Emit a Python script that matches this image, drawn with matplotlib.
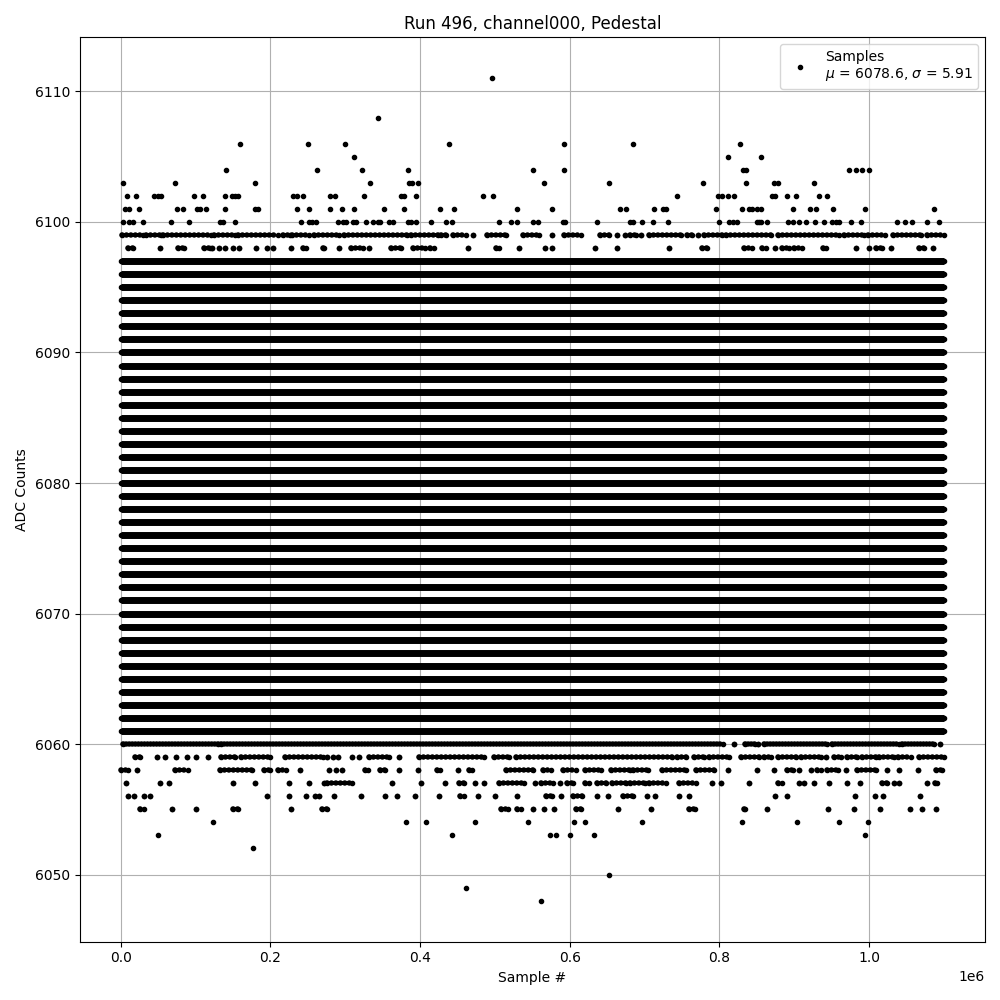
import matplotlib
matplotlib.use("Agg")
import matplotlib.pyplot as plt
import numpy as np

# ---- data (x in thousands of samples, y in ADC counts) ----
n_samples_k = 1100

dense_levels = [6061, 6062, 6063, 6064, 6065, 6066, 6067, 6068, 6069, 6070, 6071,
                6072, 6073, 6074, 6075, 6076, 6077, 6078, 6079, 6080, 6081,
                6082, 6083, 6084, 6085, 6086, 6087, 6088, 6089, 6090, 6091,
                6092, 6093, 6094, 6095, 6096, 6097]

# runs of adjacent samples (start_k, end_k) on partly filled levels
runs_6060 = [(3, 130), (134, 805), (820, 820), (834, 847), (851, 851), (860, 944),
             (951, 1040), (1044, 1087), (1095, 1095)]
runs_6059 = [(19, 26), (48, 48), (59, 59), (74, 74), (89, 89), (101, 101), (117, 117),
             (134, 152), (161, 199), (219, 270), (275, 275), (284, 284), (290, 290),
             (309, 309), (319, 319), (332, 359), (372, 372), (399, 486), (499, 519),
             (528, 737), (744, 755), (766, 780), (786, 813), (829, 853), (860, 869),
             (878, 902), (909, 936), (943, 943), (953, 962), (970, 984), (991, 1009),
             (1013, 1033), (1039, 1056), (1067, 1100)]
runs_6058 = [(0, 10), (22, 22), (72, 90), (132, 175), (191, 199), (210, 221), (239, 239),
             (278, 278), (287, 287), (295, 295), (326, 330), (346, 353), (372, 372),
             (397, 397), (422, 427), (450, 450), (466, 470), (515, 551), (564, 575),
             (591, 608), (620, 642), (655, 680), (684, 704), (723, 755), (769, 793),
             (812, 812), (850, 850), (873, 873), (891, 898), (906, 906), (922, 922),
             (931, 936), (944, 958), (969, 969), (984, 1009), (1024, 1024), (1040, 1040),
             (1065, 1065), (1089, 1098)]
runs_6057 = [(7, 7), (52, 52), (65, 65), (150, 150), (180, 180), (225, 225), (252, 252),
             (272, 272), (275, 309), (362, 362), (401, 401), (433, 433), (452, 459),
             (473, 473), (485, 485), (506, 539), (553, 553), (562, 577), (587, 587),
             (597, 604), (620, 626), (637, 649), (657, 675), (680, 700), (706, 729),
             (746, 769), (790, 790), (802, 802), (840, 840), (878, 884), (906, 906),
             (913, 913), (927, 927), (947, 947), (970, 970), (988, 988), (1018, 1024),
             (1033, 1033), (1040, 1040), (1078, 1078), (1088, 1091)]
runs_6056 = [(10, 10), (17, 17), (31, 31), (39, 39), (195, 195), (225, 225), (248, 248),
             (259, 259), (265, 265), (285, 285), (321, 321), (353, 353), (369, 369),
             (393, 393), (425, 425), (453, 459), (477, 477), (500, 500), (530, 530),
             (568, 576), (588, 588), (604, 617), (636, 636), (651, 651), (671, 684),
             (703, 703), (714, 714), (746, 746), (760, 760), (875, 875), (891, 891),
             (981, 981), (1008, 1008), (1019, 1019), (1068, 1068)]
runs_6055 = [(26, 31), (69, 69), (101, 101), (150, 156), (228, 228), (269, 275),
             (508, 517), (530, 535), (551, 551), (565, 565), (579, 579), (608, 615),
             (665, 665), (709, 709), (760, 767), (833, 834), (864, 864), (945, 945),
             (980, 980), (1015, 1015), (1055, 1055), (1071, 1071), (1089, 1089)]
runs_6098 = [(10, 16), (53, 53), (77, 85), (111, 119), (122, 122), (131, 131), (139, 139),
             (150, 150), (158, 158), (181, 181), (195, 195), (203, 203), (228, 228),
             (243, 248), (270, 272), (292, 292), (308, 324), (332, 332), (361, 375),
             (390, 406), (413, 419), (464, 464), (502, 506), (532, 532), (567, 567),
             (576, 576), (634, 634), (663, 663), (732, 732), (777, 783), (833, 844),
             (857, 862), (875, 875), (884, 893), (900, 911), (938, 943), (983, 983),
             (1000, 1000), (1009, 1017), (1029, 1029), (1067, 1073), (1085, 1085)]
runs_6099 = [(1, 30), (34, 54), (56, 121), (125, 152), (157, 210), (217, 226), (229, 252),
             (258, 292), (298, 382), (388, 424), (428, 435), (444, 462), (471, 471),
             (490, 515), (537, 559), (576, 576), (593, 615), (640, 653), (663, 663),
             (674, 674), (680, 688), (695, 695), (706, 749), (757, 764), (772, 772),
             (780, 803), (809, 869), (878, 960), (967, 993), (998, 1022), (1032, 1069),
             (1078, 1100)]

# isolated samples on sparse levels
pts_6111 = [496]
pts_6108 = [344]
pts_6106 = [159, 250, 299, 438, 592, 685, 828]
pts_6105 = [312, 812, 855]
pts_6104 = [141, 262, 322, 384, 551, 592, 831, 835, 973, 982, 990, 1000]
pts_6103 = [3, 73, 179, 333, 385, 389, 397, 566, 652, 778, 836, 873, 879, 926]
pts_6102 = [8, 20, 45, 50, 54, 98, 110, 139, 149, 152, 156, 230, 235, 243, 279, 286,
            325, 375, 378, 394, 484, 498, 744, 798, 804, 811, 820, 870, 875, 891, 903,
            933, 944]
pts_6101 = [5, 11, 24, 75, 83, 102, 106, 114, 139, 180, 183, 235, 251, 280, 296, 312,
            352, 378, 426, 445, 529, 576, 667, 675, 713, 724, 729, 796, 830, 839, 844,
            850, 855, 899, 921, 929, 952, 995, 1087]
pts_6100 = [3, 11, 16, 30, 67, 91, 132, 137, 153, 241, 251, 256, 261, 290, 297, 301,
            310, 315, 328, 337, 344, 347, 359, 364, 384, 388, 395, 414, 435, 442, 505,
            522, 530, 551, 557, 591, 594, 636, 680, 685, 697, 711, 731, 799, 813, 818,
            824, 850, 853, 856, 864, 892, 899, 906, 916, 928, 940, 950, 956, 960, 976,
            989, 1038, 1048, 1057, 1078, 1094]
pts_6054 = [123, 381, 408, 473, 544, 606, 620, 697, 830, 904, 960, 999]
pts_6053 = [50, 442, 573, 581, 601, 633, 994]
pts_6052 = [177]
pts_6050 = [652]
pts_6049 = [462]
pts_6048 = [561]

legend_label = "Samples\n$\\mu$ = 6078.6, $\\sigma$ = 5.91"
title = "Run 496, channel000, Pedestal"

runs = {6060: runs_6060, 6059: runs_6059, 6058: runs_6058,
        6057: runs_6057, 6056: runs_6056, 6055: runs_6055, 6098: runs_6098,
        6099: runs_6099}
points = {6111: pts_6111, 6108: pts_6108, 6106: pts_6106, 6105: pts_6105,
          6104: pts_6104, 6103: pts_6103, 6102: pts_6102, 6101: pts_6101,
          6100: pts_6100, 6054: pts_6054, 6053: pts_6053, 6052: pts_6052,
          6050: pts_6050, 6049: pts_6049, 6048: pts_6048}

K = 1000.0
fig, ax = plt.subplots(figsize=(10, 10), dpi=100)

LW_DENSE = 5.0   # many overlapping '.' markers form a slightly thicker band
LW_DOT = 4.0     # footprint of a single '.' marker of size 6

# fully populated levels
ax.hlines(dense_levels, 0, n_samples_k * K, colors="k", linewidth=LW_DENSE)
ax.plot(np.repeat(0, len(dense_levels)), dense_levels, "k.", ls="none")
ax.plot(np.repeat(n_samples_k * K, len(dense_levels)), dense_levels, "k.", ls="none")

# partially populated levels: chains of touching dots
for lvl, segs in runs.items():
    s = np.array([a for a, b in segs]) * K
    e = np.array([b for a, b in segs]) * K
    off = 0.55 if lvl == 6060 else 0.8
    ax.hlines(np.full(len(s), lvl), s, e, colors="k", linewidth=LW_DOT,
              linestyles=[(0, (0.001, off))], capstyle="round")
    ax.plot(np.concatenate([s, e]), np.full(2 * len(s), lvl), "k.", ls="none")

# isolated samples (carries the legend entry)
xs, ys = [], []
for lvl, p in points.items():
    xs.extend(np.array(p) * K)
    ys.extend([lvl] * len(p))
ax.plot(xs, ys, "k.", ls="none", label=legend_label)

ax.set_title(title)
ax.set_xlabel("Sample #")
ax.set_ylabel("ADC Counts")
ax.grid(True)
ax.legend(loc="upper right")
fig.tight_layout()
fig.savefig("out.png", dpi=100)
